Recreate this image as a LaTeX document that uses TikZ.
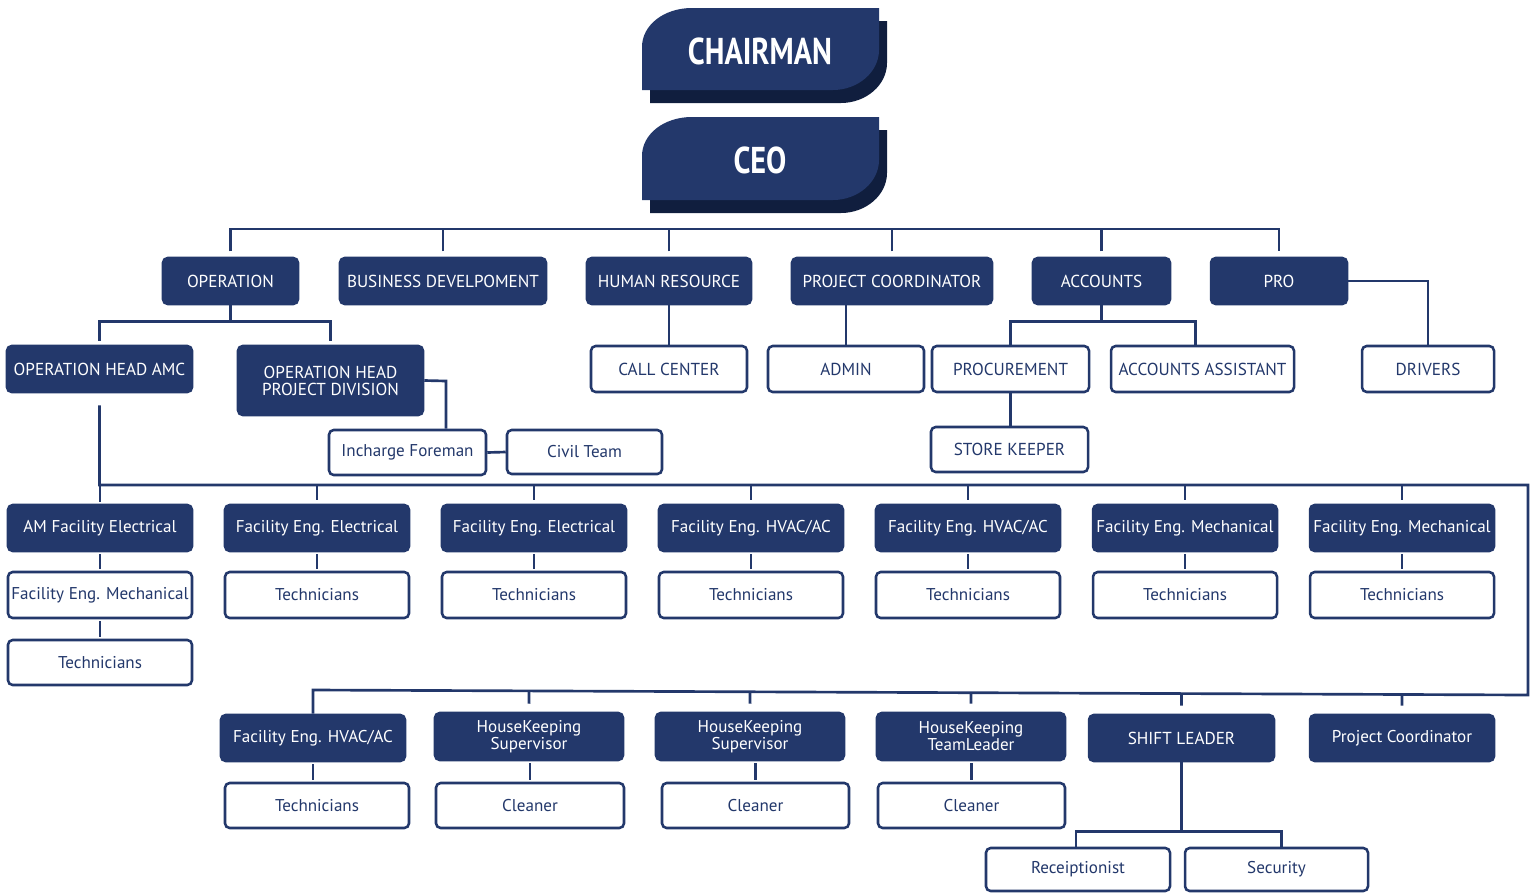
\documentclass[tikz,border=0pt]{standalone}
\usepackage{fontspec}
\setmainfont{PT Sans}
\newfontfamily\cnd{PT Sans}[FakeStretch=0.99]
\newfontfamily\ttl{PT Sans}[FakeStretch=0.81]
\usetikzlibrary{calc}
\definecolor{navy}{RGB}{35,56,107}
\definecolor{shadowc}{RGB}{16,30,62}
\tikzset{
  box/.style={rounded corners=3.5pt, line width=1.9pt, draw=navy, inner sep=0pt, align=center,
    font=\fontsize{12.8pt}{12.75pt}\selectfont},
  dk/.style={box, fill=navy, text=white},
  wt/.style={box, fill=white, text=navy},
  up/.style={font=\cnd\fontsize{13pt}{12.75pt}\selectfont},
  conn/.style={draw=navy, line width=2pt},
}
\newcommand\bx[7]{\node[#1, minimum width={(#5-#3)*0.75pt}, minimum height={(#6-#4)*0.75pt}] (#2) at ({(#3+#5)/2},{(#4+#6)/2}) {#7};}
\newcommand\tshape[2]{% #1 = top y, #2 = bottom y
  (642,#2) -- (642,{#1+39}) .. controls (642,{#1+17}) and (664,#1) .. (692,#1) -- (879,#1) -- (879,{#2-40})
  .. controls (879,{#2-18}) and (858,#2) .. (833,#2) -- cycle}
\begin{document}
\begin{tikzpicture}[x=0.75pt,y=-0.75pt]
\useasboundingbox (0,0) rectangle (1530,893);
% top shapes
\fill[shadowc, shift={(8,13)}] \tshape{8}{90};
\fill[navy] \tshape{8}{90};
\node[text=white, font=\ttl\bfseries\fontsize{28pt}{30pt}\selectfont] (chair) at (760,51) {CHAIRMAN};
\fill[shadowc, shift={(8,13)}] \tshape{117}{200};
\fill[navy] \tshape{117}{200};
\node[text=white, font=\ttl\bfseries\fontsize{28pt}{30pt}\selectfont] (ceo) at (760,160) {CEO};
% row 1
\bx{dk,up}{op}{163}{258}{298}{304}{OPERATION}
\bx{dk,up}{bd}{340}{258}{546}{304}{BUSINESS DEVELPOMENT}
\bx{dk,up}{hr}{587}{258}{751}{304}{HUMAN RESOURCE}
\bx{dk,up}{pc}{792}{258}{992}{304}{PROJECT COORDINATOR}
\bx{dk,up}{ac}{1033}{258}{1170}{304}{ACCOUNTS}
\bx{dk,up}{pro}{1211}{258}{1347}{304}{PRO}
% row 2
\bx{dk,up}{oha}{7}{346}{192}{392}{OPERATION HEAD AMC}
\bx{dk,up}{ohp}{238}{346}{423}{415}{OPERATION HEAD\\PROJECT DIVISION}
\bx{wt,up}{cc}{591}{346}{747}{392}{CALL CENTER}
\bx{wt,up}{adm}{768}{346}{924}{392}{ADMIN}
\bx{wt,up}{prc}{932}{346}{1089}{392}{PROCUREMENT}
\bx{wt,up}{aa}{1111}{346}{1294}{392}{ACCOUNTS ASSISTANT}
\bx{wt,up}{drv}{1362}{346}{1494}{392}{DRIVERS}
\bx{wt}{inf}{329}{430}{486}{475}{Incharge Foreman}
\bx{wt}{civ}{507}{430}{662}{474}{Civil Team}
\bx{wt,up}{sk}{931}{427}{1088}{472}{STORE KEEPER}
% row 3
\bx{dk}{r3a}{8}{505}{192}{551}{AM Facility Electrical}
\bx{dk}{r3b}{225}{505}{409}{551}{Facility Eng. Electrical}
\bx{dk}{r3c}{442}{505}{626}{551}{Facility Eng. Electrical}
\bx{dk}{r3d}{659}{505}{843}{551}{Facility Eng. HVAC/AC}
\bx{dk}{r3e}{876}{505}{1060}{551}{Facility Eng. HVAC/AC}
\bx{dk}{r3f}{1093}{505}{1277}{551}{Facility Eng. Mechanical}
\bx{dk}{r3g}{1310}{505}{1494}{551}{Facility Eng. Mechanical}
% row 4
\bx{wt}{r4a}{8}{572}{192}{618}{Facility Eng. Mechanical}
\bx{wt}{r4b}{225}{572}{409}{618}{Technicians}
\bx{wt}{r4c}{442}{572}{626}{618}{Technicians}
\bx{wt}{r4d}{659}{572}{843}{618}{Technicians}
\bx{wt}{r4e}{876}{572}{1060}{618}{Technicians}
\bx{wt}{r4f}{1093}{572}{1277}{618}{Technicians}
\bx{wt}{r4g}{1310}{572}{1494}{618}{Technicians}
\bx{wt}{r5a}{8}{640}{192}{685}{Technicians}
% row 6
\bx{dk}{r6a}{221}{715}{405}{761}{Facility Eng. HVAC/AC}
\bx{dk}{r6b}{435}{713}{623}{760}{HouseKeeping\\Supervisor}
\bx{dk}{r6c}{656}{713}{844}{760}{HouseKeeping\\Supervisor}
\bx{dk}{r6d}{877}{713}{1065}{760}{HouseKeeping\\TeamLeader}
\bx{dk,up}{r6e}{1089}{715}{1274}{761}{SHIFT LEADER}
\bx{dk}{r6f}{1310}{715}{1494}{761}{Project Coordinator}
% row 7
\bx{wt}{r7a}{225}{783}{409}{828}{Technicians}
\bx{wt}{r7b}{436}{783}{624}{828}{Cleaner}
\bx{wt}{r7c}{662}{783}{849}{828}{Cleaner}
\bx{wt}{r7d}{878}{783}{1065}{828}{Cleaner}
\bx{wt}{rec}{986}{848}{1170}{891}{Receiptionist}
\bx{wt}{sec}{1185}{848}{1368}{891}{Security}
% coordinates
\coordinate (busT) at (0,229);
\coordinate (busR) at (1528,485);
\coordinate (busRB) at (1528,695);
\coordinate (busL) at (313,690);
\coordinate (kink) at (446,381);
% connectors top
\draw[conn, shorten <=4pt, shorten >=4pt] (op.north) |- (busT -| pro.north) -- (pro.north);
\foreach \n in {bd,hr,pc,ac} \draw[conn, shorten <=4pt] (\n.north) -- (\n.north |- busT);
\draw[conn, shorten >=3pt] (op.south) -- ++(0,16) -| (oha.north);
\draw[conn, shorten >=3pt] (op.south) -- ++(0,16) -| (ohp.north);
\draw[conn] (hr.south) -- (cc.north);
\draw[conn] (adm.north) -- (adm.north |- pc.south);
\draw[conn] (ac.south) -- ++(0,16) -| (prc.north);
\draw[conn] (ac.south) -- ++(0,16) -| ([xshift=-5.5pt]aa.north);
\draw[conn] (prc.south) -- (prc.south |- sk.north);
\draw[conn] (pro.east) -| (drv.north);
\draw[conn] (ohp.east) -- (kink) -- (kink |- inf.north);
\draw[conn] (inf.east) -- (civ.west);
% main bus
\draw[conn, shorten <=9pt] (oha.south) -- (oha.south |- busR) -- (busR) -- (busRB) -- (busL) -- (busL |- r6a.north);
\draw[conn, shorten <=1.5pt] (r3a.north) -- (r3a.north |- busR);
\foreach \n in {r3b,r3c,r3d,r3e,r3f,r3g} \draw[conn, shorten <=3pt] (\n.north) -- (\n.north |- busR);
\foreach \n in {r6b,r6c,r6d,r6e,r6f} \draw[conn, shorten <=6pt] (\n.north) -- ($(busL)!(\n.north)!(busRB)$);
% row 3 to 4
\foreach \a/\b in {r3a/r4a,r3b/r4b,r3c/r4c,r3d/r4d,r3e/r4e,r3f/r4f,r3g/r4g,r4a/r5a}
  \draw[conn, shorten <=1.5pt, shorten >=1.5pt] (\a.south) -- (\a.south |- \b.north);
\draw[conn, shorten <=1.5pt, shorten >=1.5pt] (r6a.south) -- (r6a.south |- r7a.north);
\foreach \a/\b in {r6b/r7b,r6c/r7c,r6d/r7d}
  \draw[conn, shorten <=1.5pt, shorten >=1.5pt] (\b.north) -- (\b.north |- \a.south);
\draw[conn] (r6e.south) -- ++(0,69) -| ([xshift=-1.5pt]rec.north);
\draw[conn] (r6e.south) -- ++(0,69) -| ([xshift=3.5pt]sec.north);
\end{tikzpicture}
\end{document}
